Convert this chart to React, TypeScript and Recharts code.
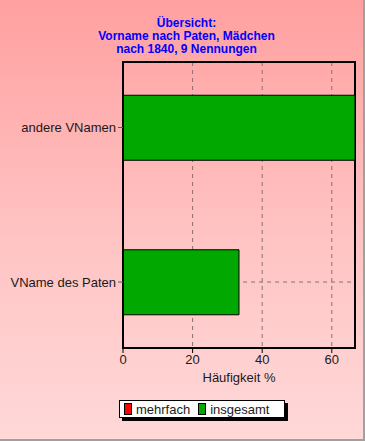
import React from 'react';
import {
  BarChart,
  Bar,
  XAxis,
  YAxis,
  CartesianGrid,
  ReferenceArea,
} from 'recharts';

// categories, top to bottom
const categories = ['andere VNamen', 'VName des Paten'];
const insgesamt = [66.67, 33.33];
const mehrfach = [0, 0];
const xTicks = [0, 20, 40, 60];
const xMinorTicks = [0, 2.5, 5, 7.5, 10, 12.5, 15, 17.5, 20, 22.5, 25, 27.5, 30, 32.5, 35, 37.5, 40, 42.5, 45, 47.5, 50, 52.5, 55, 57.5, 60, 62.5, 65];
const titleLines = ['Übersicht:', 'Vorname nach Paten, Mädchen', 'nach 1840, 9 Nennungen'];

const data = categories.map((name, i) => ({
  name,
  pos: i + 1,
  insgesamt: insgesamt[i],
  mehrfach: mehrfach[i],
}));

const FONT = '"Liberation Sans", Arial, sans-serif';
const X_MAX = 66.67;
const Y_DOMAIN: [number, number] = [0.576, 2.427];

export default function App() {
  return (
    <div
      style={{
        position: 'fixed',
        left: 0,
        top: 0,
        width: 363,
        height: 439,
        borderRight: '2px solid #a0a0a0',
        borderBottom: '2px solid #a0a0a0',
        background: 'linear-gradient(to bottom, #ffa0a0 0%, #ffc4c4 55%, #ffd8d8 100%)',
        fontFamily: FONT,
      }}
    >
      <div
        style={{
          position: 'absolute',
          left: 0,
          width: 373,
          top: 17,
          textAlign: 'center',
          color: '#0000ff',
          fontWeight: 'bold',
          fontSize: 12,
          lineHeight: '13px',
        }}
      >
        {titleLines.map((t) => (
          <div key={t}>{t}</div>
        ))}
      </div>
      <BarChart
        width={363}
        height={439}
        data={data}
        layout="vertical"
        margin={{ top: 62, right: 8, left: 0, bottom: 45 }}
        style={{ position: 'absolute', left: 0, top: 0 }}
      >
        <CartesianGrid stroke="#8a7070" strokeDasharray="4 4" vertical horizontal fill="none" />
        <XAxis
          xAxisId="minor"
          type="number"
          domain={[0, X_MAX]}
          ticks={xMinorTicks}
          tickFormatter={() => ''}
          tickSize={3}
          axisLine={false}
          tickLine={{ stroke: '#000' }}
          height={0}
          allowDataOverflow
        />
        <XAxis
          type="number"
          domain={[0, X_MAX]}
          ticks={xTicks}
          tickSize={5}
          axisLine={{ stroke: '#000', strokeWidth: 2 }}
          tickLine={{ stroke: '#000' }}
          tick={{ fill: '#1a1a1a', fontSize: 13, fontFamily: FONT }}
          height={46}
          allowDataOverflow
          label={{ value: 'Häufigkeit %', position: 'insideBottom', offset: 12, fill: '#1a1a1a', fontSize: 13, fontFamily: FONT }}
        />
        <YAxis
          type="number"
          dataKey="pos"
          domain={Y_DOMAIN}
          ticks={[1, 2]}
          tickFormatter={(v: number) => categories[v - 1] ?? ''}
          tickSize={5}
          axisLine={{ stroke: '#000', strokeWidth: 2 }}
          tickLine={{ stroke: '#555' }}
          tick={{ fill: '#1a1a1a', fontSize: 13, fontFamily: FONT }}
          width={123}
          allowDataOverflow
        />
        <ReferenceArea
          x1={0}
          x2={X_MAX}
          y1={Y_DOMAIN[0]}
          y2={Y_DOMAIN[1]}
          fill="none"
          fillOpacity={0}
          stroke="#000"
          strokeWidth={2}
          ifOverflow="visible"
        />
        <Bar
          dataKey="insgesamt"
          fill="#00a800"
          stroke="#000"
          strokeWidth={1}
          barSize={65}
          isAnimationActive={false}
        />
      </BarChart>
      <div
        style={{
          position: 'absolute',
          left: 119,
          top: 400,
          width: 164,
          height: 16,
          background: '#fff',
          border: '1px solid #000',
          boxShadow: '3px 3px 0 #000',
          display: 'flex',
          alignItems: 'center',
          fontSize: 13,
          color: '#1a1a1a',
        }}
      >
        <span style={{ display: 'inline-block', width: 6, height: 10, background: '#ff0000', border: '1px solid #000', marginLeft: 4, marginRight: 4 }} />
        <span>mehrfach</span>
        <span style={{ display: 'inline-block', width: 6, height: 10, background: '#00a800', border: '1px solid #000', marginLeft: 8, marginRight: 4 }} />
        <span>insgesamt</span>
      </div>
    </div>
  );
}
